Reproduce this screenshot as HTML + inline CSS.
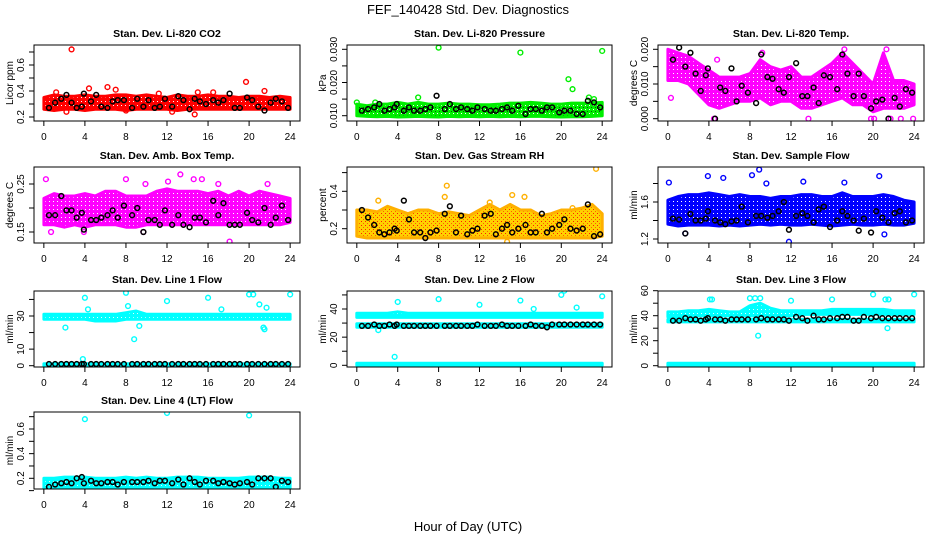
<!DOCTYPE html>
<html><head><meta charset="utf-8">
<style>
html,body{margin:0;padding:0;background:#fff;}
svg{display:block;font-family:"Liberation Sans",sans-serif;}
</style></head>
<body>
<svg id="chart" width="936" height="540" viewBox="0 0 936 540">
<defs>
<pattern id="pat-red" width="4" height="4" patternUnits="userSpaceOnUse"><rect width="4" height="4" fill="#ff0000"/><rect x="1" y="1" width="1" height="1" fill="#fff"/></pattern>
<pattern id="pat-green" width="4" height="4" patternUnits="userSpaceOnUse"><rect width="4" height="4" fill="#00ee00"/><rect x="1" y="1" width="1" height="1" fill="#fff"/><rect x="3" y="3" width="1" height="1" fill="#006600"/></pattern>
<pattern id="pat-magenta" width="4" height="4" patternUnits="userSpaceOnUse"><rect width="4" height="4" fill="#ff00ff"/><rect x="1" y="1" width="1" height="1" fill="#fff"/></pattern>
<pattern id="pat-orange" width="4" height="4" patternUnits="userSpaceOnUse"><rect width="4" height="4" fill="#ffd000"/><rect x="1" y="1" width="1" height="1" fill="#ff2000"/><rect x="3" y="3" width="1" height="1" fill="#ff6000"/></pattern>
<pattern id="pat-blue" width="4" height="4" patternUnits="userSpaceOnUse"><rect width="4" height="4" fill="#0000ff"/><rect x="1" y="1" width="1" height="1" fill="#fff"/></pattern>
<pattern id="pat-cyan" width="4" height="4" patternUnits="userSpaceOnUse"><rect width="4" height="4" fill="#00ffff"/><rect x="1" y="1" width="1" height="1" fill="#dfffff"/></pattern>
</defs>
<text x="468" y="14" text-anchor="middle" font-size="13">FEF_140428  Std. Dev. Diagnostics</text>
<text x="468" y="531" text-anchor="middle" font-size="13">Hour of Day (UTC)</text>
</svg>
<script>
// shared x ticks
const xTicks = [0,4,8,12,16,20,24];
// black series times (hours)
const blackT = [0.5,1.1,1.7,2.2,2.7,3.2,3.7,3.9,4.6,5.1,5.6,6.2,6.7,7.2,7.8,8.6,9.1,9.7,10.2,10.8,11.3,11.8,12.5,13.1,13.6,14.2,14.7,15.2,15.8,16.5,17.0,17.5,18.1,18.6,19.1,19.8,20.3,20.9,21.5,22.1,22.6,23.2,23.8];
// band hours
const bandT = [0,1,2,3,4,5,6,7,8,9,10,11,12,13,14,15,16,17,18,19,20,21,22,23,24];

// P1 CO2
const co2Black = [.27,.31,.34,.37,.31,.27,.28,.38,.32,.37,.28,.27,.32,.33,.33,.27,.34,.28,.33,.27,.28,.34,.28,.36,.33,.26,.34,.32,.30,.33,.31,.33,.38,.27,.27,.35,.33,.28,.25,.31,.34,.32,.27];
const co2Lo = [.26,.25,.26,.26,.25,.26,.26,.26,.25,.26,.26,.26,.26,.25,.26,.26,.26,.26,.26,.26,.26,.26,.26,.26,.26];
const co2Hi = [.35,.37,.36,.36,.37,.36,.36,.37,.37,.36,.37,.36,.35,.37,.36,.36,.37,.36,.36,.35,.36,.36,.35,.36,.35];
const co2OutT = [2.7,4.4,6.2,19.7,21.5,14.7,2.2,1.2,7.0,11.2,15.0,16.5,12.5,8.0];
const co2OutV = [.72,.42,.43,.47,.40,.22,.24,.39,.41,.38,.39,.39,.24,.25];
// P2 pressure
const presBlack = [.0115,.012,.0125,.0135,.0115,.012,.0125,.0135,.0115,.0125,.0115,.0115,.012,.0125,.016,.012,.0135,.012,.0125,.012,.0115,.0125,.012,.0115,.0115,.012,.0125,.0115,.013,.0105,.012,.012,.0115,.0125,.0125,.011,.0115,.0115,.0105,.0105,.0145,.014,.0125];
const presLo = [.0100,.0098,.0097,.0098,.0096,.0097,.0098,.0097,.0096,.0098,.0097,.0098,.0097,.0098,.0097,.0098,.0097,.0098,.0098,.0097,.0096,.0097,.0097,.0098,.0100];
const presHi = [.0135,.0130,.0135,.0135,.0140,.0135,.0140,.0135,.0135,.0138,.0135,.0135,.0133,.0133,.0135,.0138,.0138,.0140,.0138,.0135,.0135,.0138,.0138,.0138,.0140];
const presOutT = [0,8,16,24,20.7,21.1,22.7,6,1.8,23.2];
const presOutV = [.014,.0305,.029,.0295,.021,.018,.0155,.0155,.014,.015];
// P3 Li-820 temp
const tempBlack = [.017,.0205,.015,.019,.013,.008,.0125,.0145,.000,.009,.008,.0145,.005,.0095,.0075,.0045,.0185,.012,.0115,.0085,.0075,.012,.016,.0065,.0065,.009,.0045,.0125,.012,.0085,.0185,.013,.0065,.013,.0065,.003,.005,.0055,.000,.006,.0035,.0085,.0075];
const tempLo = [.011,.011,.010,.007,.004,.003,.004,.005,.005,.006,.004,.005,.005,.003,.003,.004,.005,.006,.004,.004,.002,.003,.003,.003,.004];
const tempHi = [.020,.019,.018,.016,.014,.012,.012,.012,.013,.017,.015,.014,.015,.012,.012,.014,.016,.019,.016,.013,.010,.019,.011,.011,.010];
const tempOutT = [0.3,4.5,13.7,19.8,20.1,21.7,22.7,23.9,21.3,9.2,4.8,17.2];
const tempOutV = [.006,0,0,0,0,0,0,0,.020,.019,.017,.020];
// P4 amb box temp
const ambBlack = [.185,.185,.225,.195,.195,.18,.19,.155,.175,.175,.18,.185,.195,.18,.205,.185,.2,.15,.175,.175,.165,.195,.165,.185,.165,.16,.18,.18,.17,.215,.185,.21,.165,.165,.165,.19,.175,.17,.2,.165,.18,.205,.175];
const ambLo = [.165,.165,.16,.165,.16,.165,.165,.165,.16,.16,.165,.165,.165,.165,.165,.165,.165,.165,.165,.165,.165,.165,.165,.165,.17];
const ambHi = [.22,.23,.225,.225,.23,.225,.235,.235,.225,.225,.225,.235,.24,.235,.235,.235,.23,.235,.225,.235,.225,.235,.23,.225,.22];
const ambOutT = [0.2,8,13.3,14.6,18.1,0.7,3.9,9.7,12.1,15.4,17,9.9,21.8];
const ambOutV = [.26,.26,.27,.26,.13,.15,.15,.15,.255,.26,.25,.25,.25];
// P5 gas stream RH
const rhBlack = [.30,.26,.22,.18,.17,.18,.20,.19,.35,.25,.18,.18,.15,.18,.19,.28,.32,.18,.27,.17,.19,.20,.27,.28,.17,.20,.22,.18,.20,.22,.18,.18,.28,.18,.20,.22,.25,.20,.19,.20,.33,.16,.17];
const rhLo = [.16,.15,.15,.15,.15,.15,.15,.15,.15,.15,.15,.15,.15,.15,.15,.15,.15,.15,.15,.15,.15,.15,.15,.15,.16];
const rhHi = [.30,.30,.29,.32,.30,.28,.30,.30,.28,.29,.28,.27,.30,.33,.30,.33,.30,.30,.27,.28,.30,.30,.31,.33,.28];
const rhOutT = [23.4,15.2,16.4,8.8,2.1,21.1,8.6,13.0,14.7];
const rhOutV = [.52,.38,.37,.43,.35,.31,.37,.34,.13];
// P6 sample flow
const flowBlack = [1.42,1.41,1.26,1.47,1.40,1.40,1.42,1.50,1.40,1.38,1.36,1.39,1.40,1.55,1.38,1.45,1.45,1.43,1.45,1.50,1.60,1.30,1.45,1.48,1.45,1.38,1.52,1.55,1.33,1.40,1.50,1.45,1.40,1.29,1.42,1.27,1.50,1.43,1.38,1.48,1.50,1.38,1.40];
const flowLo = [1.36,1.34,1.35,1.35,1.35,1.34,1.35,1.34,1.35,1.36,1.35,1.36,1.35,1.35,1.36,1.35,1.34,1.35,1.36,1.35,1.35,1.36,1.35,1.35,1.37];
const flowHi = [1.62,1.66,1.68,1.68,1.70,1.68,1.66,1.68,1.66,1.66,1.64,1.66,1.66,1.68,1.68,1.66,1.66,1.70,1.66,1.66,1.66,1.68,1.66,1.62,1.60];
const flowOutT = [0.1,3.9,8.2,8.9,20.6,11.8,21.1,1.7,5.4,9.6,13.2,17.2];
const flowOutV = [1.81,1.88,1.89,1.95,1.88,1.17,1.25,1.26,1.86,1.80,1.82,1.81];
// P7 line 1
const l1Black = [1,1,1,1,1,1,1,1,1,1,1,1,1,1,1,1,1,1,1,1,1,1,1,1,1,1,1,1,1,1,1,1,1,1,1,1,1,1,1,1,1,1,1];
const l1Lo = [28,28,28,28,28,27,27,27,28,28,28,28,28,28,28,28,28,28,28,28,28,28,28,28,28];
const l1Hi = [31,31,31,31,31,31,31,31,32,33,31,31,31,31,31,31,31,31,31,31,31,31,31,31,31];
const l1ZLo = [0,0,0,0,0,0,0,0,0,0,0,0,0,0,0,0,0,0,0,0,0,0,0,0,0];
const l1ZHi = [1.2,1.2,1.2,1.2,1.2,1.2,1.2,1.2,1.2,1.2,1.2,1.2,1.2,1.2,1.2,1.2,1.2,1.2,1.2,1.2,1.2,1.2,1.2,1.2,1.2];
const l1OutT = [4,8,12,16,20,20.4,24,2.1,8.8,9.3,4.3,21,21.4,21.5,3.8,8.2,17.3,21.7];
const l1OutV = [41,44,39,41,43,43,43,23,16,24,34,37,23,22,4,36,34,35];
// P8 line 2
const l2Black = [28,28,29,28,28,29,28,29,28,28,28,28,28,28,28,28,28,28,28,28,28,29,28,28,28,29,28,28,28,28,29,28,28,27,29,29,29,29,29,29,29,29,29];
const l2ALo = [34,34,34,34,34,34,34,34,34,34,34,34,34,34,34,34,34,34,34,34,34,34,34,34,34];
const l2AHi = [37,37,37,37,38,37,37,37,37,37,37,37,37,37,37,37,37,37,37,37,37,37,37,37,37];
const l2BLo = [27,27,27,27,27,27,27,27,27,27,27,27,27,27,27,27,27,27,27,27,27,27,27,27,27];
const l2BHi = [29.5,29.5,29.5,29.5,29.5,29.5,29.5,29.5,29.5,29.5,29.5,29.5,29.5,29.5,29.5,29.5,29.5,29.5,29.5,29.5,29.5,29.5,29.5,29.5,29.5];
const l2ZLo = [0,0,0,0,0,0,0,0,0,0,0,0,0,0,0,0,0,0,0,0,0,0,0,0,0];
const l2ZHi = [1.5,1.5,1.5,1.5,1.5,1.5,1.5,1.5,1.5,1.5,1.5,1.5,1.5,1.5,1.5,1.5,1.5,1.5,1.5,1.5,1.5,1.5,1.5,1.5,1.5];
const l2OutT = [4,8,3.7,2.1,12,16,20,20.3,24,17.3,21.5];
const l2OutV = [45,47,6,25,43,46,50,53,49,40,41];
// P9 line 3
const l3Black = [36,36,38,37,37,36,37,38,37,37,36,37,37,37,37,37,38,37,37,37,37,36,39,38,36,40,37,37,38,38,39,39,36,36,39,38,39,38,38,38,38,38,38];
const l3ALo = [39,39,40,40,40,40,40,40,40,40,40,40,40,41,41,41,41,41,41,41,41,41,41,41,41];
const l3AHi = [43,43,44,44,45,44,43,43,48,50,46,44,44,44,44,44,45,45,45,45,45,45,44,44,44];
const l3BLo = [35,35,35,35,35,35,35,35,35,35,35,35,35,35,35,35,35,35,35,35,35,35,35,35,35];
const l3BHi = [37,37,37,37,37,37,37,37,37,37,37,37,37,37,37,37,37,37,37,37,37,37,37,37,37];
const l3ZLo = [0,0,0,0,0,0,0,0,0,0,0,0,0,0,0,0,0,0,0,0,0,0,0,0,0];
const l3ZHi = [2,2,2,2,2,2,2,2,2,2,2,2,2,2,2,2,2,2,2,2,2,2,2,2,2];
const l3OutT = [4.1,4.3,8,8.5,9.0,12,16,20,21.2,21.5,24,8.8,21.4];
const l3OutV = [53,53,54,54,54,52,53,57,53,53,57,24,30];
// P10 line 4
const l4Black = [.13,.15,.16,.17,.16,.20,.21,.16,.18,.16,.16,.17,.17,.15,.17,.17,.17,.17,.18,.16,.18,.18,.16,.19,.15,.20,.17,.15,.18,.18,.16,.17,.16,.15,.16,.17,.15,.20,.20,.20,.13,.18,.17];
const l4Lo = [.12,.12,.12,.12,.12,.12,.12,.12,.12,.12,.12,.12,.12,.12,.12,.12,.12,.12,.12,.12,.12,.12,.12,.12,.12];
const l4Hi = [.20,.20,.21,.21,.21,.20,.20,.20,.21,.20,.21,.20,.20,.21,.21,.21,.20,.20,.20,.20,.21,.21,.21,.20,.20];
const l4OutT = [4,12,20];
const l4OutV = [.68,.73,.71];

const cols = [[34,300],[347,612],[658,924]];
const rows = [[45,121],[167,243],[291,367],[412,489]];
const panels = [
 {name:'co2',title:'Stan. Dev. Li-820 CO2',ylab:'Licor ppm',c:0,r:0,ref:[0.2,117,0.6,65],ticks:[.2,.3,.4,.5,.6,.7],labels:[.2,.4,.6],dec:1,color:'#ff0000',pat:'red',bands:[[co2Lo,co2Hi]],oT:co2OutT,oV:co2OutV,black:co2Black},
 {name:'pressure',title:'Stan. Dev. Li-820 Pressure',ylab:'kPa',c:1,r:0,ref:[0.010,115.7,0.030,49.3],ticks:[.010,.015,.020,.025,.030],labels:[.010,.020,.030],dec:3,color:'#00ee00',pat:'green',bands:[[presLo,presHi]],oT:presOutT,oV:presOutV,black:presBlack},
 {name:'li820-temp',title:'Stan. Dev. Li-820 Temp.',ylab:'degrees C',c:2,r:0,ref:[0,118.7,0.020,49.3],ticks:[0,.005,.010,.015,.020],labels:[0,.010,.020],dec:3,color:'#ff00ff',pat:'magenta',bands:[[tempLo,tempHi]],oT:tempOutT,oV:tempOutV,black:tempBlack},
 {name:'amb-box-temp',title:'Stan. Dev. Amb. Box Temp.',ylab:'degrees C',c:0,r:1,ref:[0.15,232,0.25,184],ticks:[.15,.20,.25],labels:[.15,.25],dec:2,color:'#ff00ff',pat:'magenta',bands:[[ambLo,ambHi]],oT:ambOutT,oV:ambOutV,black:ambBlack},
 {name:'gas-stream-rh',title:'Stan. Dev. Gas Stream RH',ylab:'percent',c:1,r:1,ref:[0.2,228.7,0.4,191.3],ticks:[.2,.3,.4,.5],labels:[.2,.4],dec:1,color:'#ffb000',pat:'orange',bands:[[rhLo,rhHi]],oT:rhOutT,oV:rhOutV,black:rhBlack},
 {name:'sample-flow',title:'Stan. Dev. Sample Flow',ylab:'ml/min',c:2,r:1,ref:[1.2,239,1.6,202],ticks:[1.2,1.4,1.6,1.8],labels:[1.2,1.6],dec:1,color:'#0000ff',pat:'blue',bands:[[flowLo,flowHi]],oT:flowOutT,oV:flowOutV,black:flowBlack},
 {name:'line1-flow',title:'Stan. Dev. Line 1 Flow',ylab:'ml/min',c:0,r:2,ref:[0,365.7,30,316],ticks:[0,10,20,30,40],labels:[0,10,30],dec:0,color:'#00ffff',pat:'cyan',bands:[[l1Lo,l1Hi],[l1ZLo,l1ZHi]],oT:l1OutT,oV:l1OutV,black:l1Black},
 {name:'line2-flow',title:'Stan. Dev. Line 2 Flow',ylab:'ml/min',c:1,r:2,ref:[0,365.3,40,309],ticks:[0,10,20,30,40,50],labels:[0,20,40],dec:0,color:'#00ffff',pat:'cyan',bands:[[l2ALo,l2AHi],[l2BLo,l2BHi],[l2ZLo,l2ZHi]],oT:l2OutT,oV:l2OutV,black:l2Black},
 {name:'line3-flow',title:'Stan. Dev. Line 3 Flow',ylab:'ml/min',c:2,r:2,ref:[0,365.7,60,290.7],ticks:[0,10,20,30,40,50,60],labels:[0,20,40,60],dec:0,color:'#00ffff',pat:'cyan',bands:[[l3ALo,l3AHi],[l3BLo,l3BHi],[l3ZLo,l3ZHi]],oT:l3OutT,oV:l3OutV,black:l3Black},
 {name:'line4-flow',title:'Stan. Dev. Line 4 (LT) Flow',ylab:'ml/min',c:0,r:3,ref:[0.2,478.3,0.6,429],ticks:[.1,.2,.3,.4,.5,.6,.7],labels:[.2,.4,.6],dec:1,color:'#00ffff',pat:'cyan',bands:[[l4Lo,l4Hi]],oT:l4OutT,oV:l4OutV,black:l4Black}
];
const NS='http://www.w3.org/2000/svg';
const svg=document.getElementById('chart');
function mk(tag,attrs,parent){const e=document.createElementNS(NS,tag);for(const k in attrs)e.setAttribute(k,attrs[k]);(parent||svg).appendChild(e);return e;}
panels.forEach(p=>{
  const [x0,x1]=cols[p.c],[y0,y1]=rows[p.r];
  const g=mk('g',{});
  
  
  const xs=t=>x0+(t+0.96)/25.92*(x1-x0);
  const [v1,py1,v2,py2]=p.ref;
  const ys=v=>py1+(v-v1)*(py2-py1)/(v2-v1);
  const clip='clip-'+p.name;
  const cp=mk('clipPath',{id:clip},g);mk('rect',{x:x0,y:y0,width:x1-x0,height:y1-y0},cp);
  const dg=mk('g',{'clip-path':'url(#'+clip+')'},g);
  p.bands.forEach((b,i)=>{
    const [lo,hi]=b;let d='';
    for(let k=0;k<bandT.length;k++)d+=(k?'L':'M')+xs(bandT[k]).toFixed(1)+','+ys(hi[k]).toFixed(1);
    for(let k=bandT.length-1;k>=0;k--)d+='L'+xs(bandT[k]).toFixed(1)+','+ys(lo[k]).toFixed(1);
    const el=mk('path',{d:d+'Z',fill:'url(#pat-'+p.pat+')',stroke:p.color,'stroke-width':3,'stroke-linejoin':'round'},dg);
    
    
  });
  for(let k=0;k<Math.min(p.oT.length,p.oV.length);k++){
    const el=mk('circle',{cx:xs(p.oT[k]),cy:ys(p.oV[k]),r:2.4,fill:'none',stroke:p.color,'stroke-width':1.4},dg);
    
    
  }
  for(let k=0;k<Math.min(blackT.length,p.black.length);k++){
    const el=mk('circle',{cx:xs(blackT[k]),cy:ys(p.black[k]),r:2.4,fill:'none',stroke:'#000','stroke-width':1.5},dg);
    
    
  }
  const box=mk('rect',{x:x0,y:y0,width:x1-x0,height:y1-y0,fill:'none',stroke:'#000','stroke-width':1},g);
  
  
  const t=mk('text',{x:(x0+x1)/2,y:y0-8,'text-anchor':'middle','font-size':10.5,'font-weight':'bold'},g);t.textContent=p.title;
  
  
  // x axis (on frame)
  xTicks.forEach(v=>{
    mk('line',{x1:xs(v),x2:xs(v),y1:y1,y2:y1+5,stroke:'#000'},g);
    const tl=mk('text',{x:xs(v),y:y1+19,'text-anchor':'middle','font-size':10},g);tl.textContent=v;
    
    
  });
  // y axis (on frame)
  const ax=x0;
  p.ticks.forEach(v=>{ if(ys(v)>=y0-2) mk('line',{x1:ax-5,x2:ax,y1:ys(v),y2:ys(v),stroke:'#000'},g);});
  p.labels.forEach(v=>{
    const yy=ys(v);
    const tl=mk('text',{x:ax-10,y:yy,'text-anchor':'middle','font-size':10,transform:'rotate(-90 '+(ax-10)+' '+yy+')'},g);
    tl.textContent=v.toFixed(p.dec);
    
    
  });
  const ym=(y0+y1)/2, yl=x0-21;
  const yt=mk('text',{x:yl,y:ym,'text-anchor':'middle','font-size':10,transform:'rotate(-90 '+yl+' '+ym+')'},g);yt.textContent=p.ylab;
  
  
});
</script>
</body></html>
